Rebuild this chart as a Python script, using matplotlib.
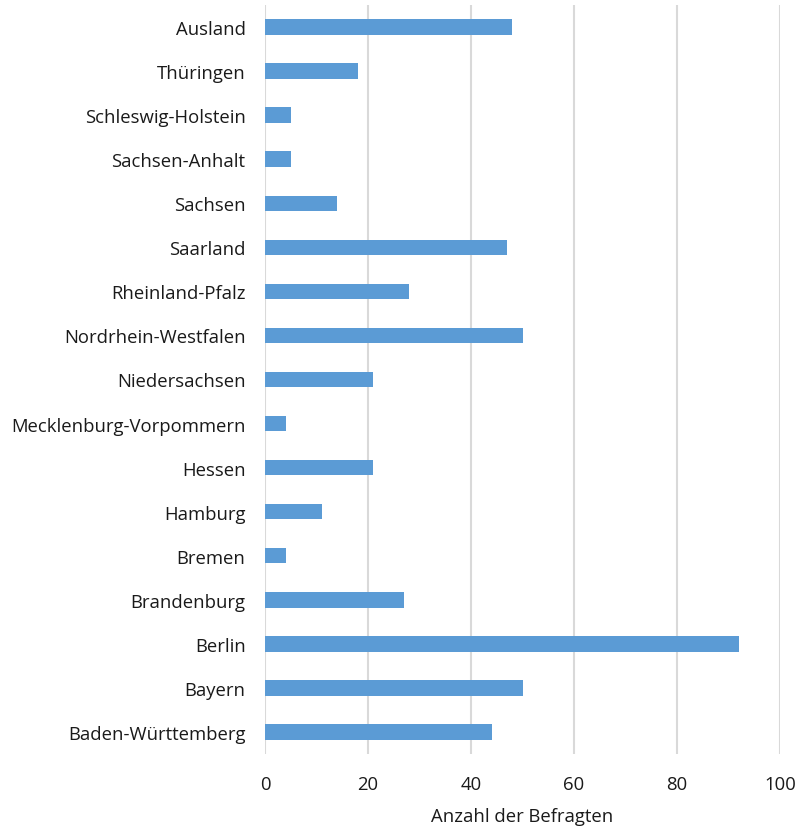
import matplotlib
matplotlib.use("Agg")
import matplotlib.pyplot as plt

categories = ["Baden-Württemberg", "Bayern", "Berlin", "Brandenburg", "Bremen",
              "Hamburg", "Hessen", "Mecklenburg-Vorpommern", "Niedersachsen",
              "Nordrhein-Westfalen", "Rheinland-Pfalz", "Saarland", "Sachsen",
              "Sachsen-Anhalt", "Schleswig-Holstein", "Thüringen", "Ausland"]
values = [44, 50, 92, 27, 4, 11, 21, 4, 21, 50, 28, 47, 14, 5, 5, 18, 48]
xticks = [0, 20, 40, 60, 80, 100]
xlabel = "Anzahl der Befragten"

plt.rcParams['font.family'] = ['Open Sans', 'DejaVu Sans']

fig = plt.figure(figsize=(8.01, 8.29), dpi=100)
ax = fig.add_axes([265/801, 1-755/829, 515/801, (755-6)/829])

ypos = list(range(len(categories)))
ax.barh(ypos, values, height=0.35, color="#5B9BD5", zorder=3)
ax.set_ylim(-0.5, len(categories)-0.5)
ax.set_xlim(0, 100)
ax.set_xticks(xticks)
ax.set_yticks(ypos)
ax.set_yticklabels(categories, fontsize=13.3, color="#1a1a1a")
ax.tick_params(axis='x', labelsize=13.3, colors="#1a1a1a", length=0, pad=15)
ax.tick_params(axis='y', length=0, pad=14)
for s in ax.spines.values():
    s.set_visible(False)
ax.xaxis.grid(True, color="#D9D9D9", linewidth=1.5, zorder=0)
ax.set_axisbelow(True)
ax.set_xlabel(xlabel, fontsize=13.3, color="#1a1a1a", labelpad=10)

fig.savefig("out.png", dpi=100)
